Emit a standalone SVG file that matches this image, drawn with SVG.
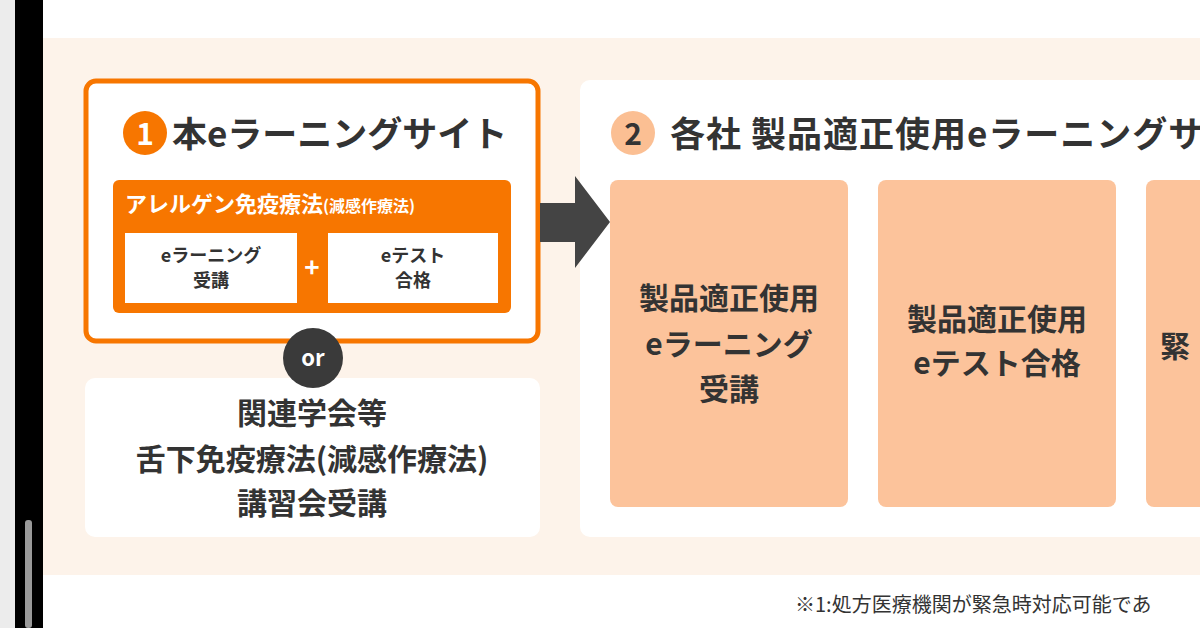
<svg xmlns="http://www.w3.org/2000/svg" width="1200" height="628" viewBox="0 0 1200 628">
<style>
text{font-family:"Noto Sans CJK JP","Noto Sans",sans-serif;font-weight:bold;fill:#333}
.c{text-anchor:middle}
.w{fill:#fff}
.big{font-size:30px}
.mid{font-size:18px}
</style>
<rect width="1200" height="628" fill="#fff"/>
<rect x="0" y="0" width="15" height="628" fill="#ececec"/>
<rect x="15" y="0" width="28" height="628" fill="#000"/>
<rect x="25" y="520" width="7" height="108" rx="3" fill="#9a9a9a"/>
<rect x="43" y="38" width="1157" height="537" fill="#fdf3ea"/>
<g id="node1">
<rect x="86" y="81" width="452" height="260" rx="10" fill="#fff" stroke="#f77600" stroke-width="5"/>
<circle cx="145" cy="133" r="22" fill="#f77600"/>
<text x="145" y="145" class="c w" font-size="30">1</text>
<text x="172" y="147" font-size="35">本eラーニングサイト</text>
<rect x="113" y="180" width="398" height="133" rx="6" fill="#f77600"/>
<text x="125" y="212" class="w" font-size="22">アレルゲン免疫療法<tspan font-size="16">(減感作療法)</tspan></text>
<rect x="125" y="233" width="172" height="70" fill="#fff"/>
<rect x="328" y="233" width="170" height="70" fill="#fff"/>
<text x="211" y="262" class="c mid">eラーニング</text>
<text x="211" y="287" class="c mid">受講</text>
<text x="413" y="262" class="c mid">eテスト</text>
<text x="413" y="287" class="c mid">合格</text>
<text x="312" y="277" class="c w" font-size="26">+</text>
</g>
<g id="node-alt">
<rect x="85" y="378" width="455" height="159" rx="10" fill="#fff"/>
<text x="312" y="424" class="c big">関連学会等</text>
<text x="312" y="470" class="c big">舌下免疫療法(減感作療法)</text>
<text x="312" y="514" class="c big">講習会受講</text>
</g>
<g id="or">
<circle cx="313" cy="358" r="30" fill="#3a3a3a"/>
<text x="313" y="366" class="c w" font-size="22">or</text>
</g>
<g id="node2">
<rect x="580" y="80" width="640" height="457" rx="10" fill="#fff"/>
<circle cx="633" cy="133" r="22" fill="#fbbf93"/>
<text x="633" y="145" class="c" font-size="30">2</text>
<text x="670" y="147" font-size="35" letter-spacing="1">各社 製品適正使用eラーニングサ</text>
</g>
<g id="connectors">
<polygon points="540,203 575,203 575,176 610,222 575,268 575,242 540,242" fill="#444"/>
</g>
<g id="step-a">
<rect x="610" y="180" width="238" height="327" rx="8" fill="#fcc39b"/>
<text x="729" y="309" class="c big">製品適正使用</text>
<text x="729" y="355" class="c big">eラーニング</text>
<text x="729" y="400" class="c big">受講</text>
</g>
<g id="step-b">
<rect x="878" y="180" width="238" height="327" rx="8" fill="#fcc39b"/>
<text x="997" y="330" class="c big">製品適正使用</text>
<text x="997" y="374" class="c big">eテスト合格</text>
</g>
<g id="step-c">
<rect x="1146" y="180" width="100" height="327" rx="8" fill="#fcc39b"/>
<text x="1160" y="357" class="big">緊</text>
</g>
<text x="795" y="612" font-size="20" style="font-weight:normal">※1:処方医療機関が緊急時対応可能であ</text>
</svg>
